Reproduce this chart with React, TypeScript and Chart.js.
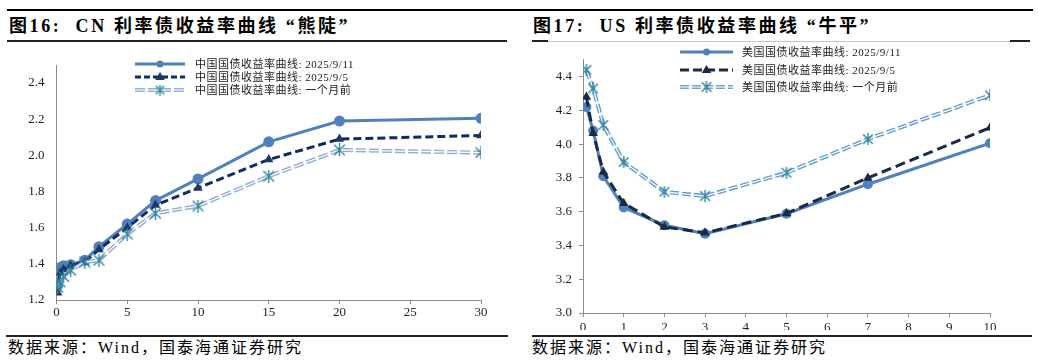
import React, { useEffect, useRef } from 'react';
import { Chart, registerables } from 'chart.js';

Chart.register(...registerables);

// ---------- data ----------
const cnTenors = [0.083, 0.25, 0.5, 1, 2, 3, 5, 7, 10, 15, 20, 30];
const cnLatest = [1.28, 1.38, 1.39, 1.395, 1.42, 1.495, 1.62, 1.75, 1.87, 2.075, 2.19, 2.205];
const cnWeekAgo = [1.24, 1.35, 1.37, 1.39, 1.41, 1.48, 1.6, 1.725, 1.82, 1.977, 2.09, 2.11];
const cnMonthAgo = [1.27, 1.3, 1.33, 1.365, 1.41, 1.42, 1.565, 1.68, 1.72, 1.885, 2.03, 2.015];
const cnLabels = ['中国国债收益率曲线: 2025/9/11', '中国国债收益率曲线: 2025/9/5', '中国国债收益率曲线: 一个月前'];

const usTenors = [0.083, 0.25, 0.5, 1, 2, 3, 5, 7, 10];
const usLatest = [4.22, 4.08, 3.81, 3.625, 3.52, 3.47, 3.588, 3.763, 4.006];
const usWeekAgo = [4.28, 4.065, 3.835, 3.65, 3.51, 3.475, 3.59, 3.8, 4.098];
const usMonthAgo = [4.44, 4.33, 4.114, 3.894, 3.718, 3.693, 3.831, 4.03, 4.29];
const usLabels = ['美国国债收益率曲线: 2025/9/11', '美国国债收益率曲线: 2025/9/5', '美国国债收益率曲线: 一个月前'];

const cnY = { min: 1.2, max: 2.5, step: 0.2 };
const cnX = { min: 0, max: 30, step: 5 };
const usY = { min: 3.0, max: 4.5, step: 0.2 };
const usX = { min: 0, max: 10, step: 1 };

const titleLeft = '图16:  CN 利率债收益率曲线 “熊陡”';
const titleRight = '图17:  US 利率债收益率曲线 “牛平”';
const sourceText = '数据来源：Wind，国泰海通证券研究';

// ---------- helpers ----------
const STAR_COLOR = '#31859C';
function makeStar(size: number, color: string, lw: number) {
  const c = document.createElement('canvas');
  c.width = size;
  c.height = size;
  const g = c.getContext('2d')!;
  g.strokeStyle = color;
  g.lineWidth = lw;
  const m = lw / 2 + 0.5;
  g.beginPath();
  g.moveTo(m, m); g.lineTo(size - m, size - m);
  g.moveTo(size - m, m); g.lineTo(m, size - m);
  g.moveTo(size / 2, 0); g.lineTo(size / 2, size);
  g.stroke();
  return c;
}

const pts = (xs: number[], ys: number[]) => xs.map((x, i) => ({ x, y: ys[i] }));

const lineLegend = {
  id: 'lineLegend',
  afterDraw(chart: any, _a: any, opts: any) {
    if (!opts || !opts.items) return;
    const ctx = chart.ctx as CanvasRenderingContext2D;
    opts.items.forEach((it: any, i: number) => {
      const y = opts.rows[i];
      ctx.save();
      ctx.lineCap = 'butt';
      ctx.setLineDash(it.dash || []);
      ctx.strokeStyle = it.color;
      ctx.lineWidth = it.width;
      ctx.beginPath();
      ctx.moveTo(opts.x0, y);
      ctx.lineTo(opts.x1, y);
      ctx.stroke();
      if (it.inner) {
        ctx.strokeStyle = '#fff';
        ctx.lineWidth = it.inner;
        ctx.beginPath();
        ctx.moveTo(opts.x0, y);
        ctx.lineTo(opts.x1, y);
        ctx.stroke();
      }
      ctx.setLineDash([]);
      const mx = (opts.x0 + opts.x1) / 2;
      if (it.marker === 'circle') {
        ctx.fillStyle = it.markerColor;
        ctx.beginPath();
        ctx.arc(mx, y, it.size, 0, Math.PI * 2);
        ctx.fill();
      } else if (it.marker === 'triangle') {
        const r = it.size;
        ctx.fillStyle = it.markerColor;
        ctx.beginPath();
        ctx.moveTo(mx, y - r);
        ctx.lineTo(mx + r * 0.95, y + r * 0.6);
        ctx.lineTo(mx - r * 0.95, y + r * 0.6);
        ctx.closePath();
        ctx.fill();
      } else if (it.marker === 'star') {
        const img = it.img as HTMLCanvasElement;
        ctx.drawImage(img, mx - img.width / 2, y - img.height / 2);
      }
      ctx.fillStyle = '#222';
      ctx.font = opts.font;
      ctx.textBaseline = 'middle';
      ctx.textAlign = 'left';
      try { (ctx as any).letterSpacing = opts.spacing || '0px'; } catch (e) {}
      ctx.fillText(it.label, opts.textX, y + 1);
      ctx.restore();
    });
  },
};

const tickFont = { family: "'Liberation Serif', 'Times New Roman', serif", size: 13 };
const AXIS = '#8c8c8c';

function buildConfig(p: any) {
  const star = makeStar(p.starSize, STAR_COLOR, 1.4);
  const legendStar = makeStar(p.legendStarSize, STAR_COLOR, 1.4);
  const yAxis = p.yAxis;
  const xAxis = p.xAxis;
  return {
    type: 'line',
    data: {
      datasets: [
        {
          label: 's3-markers',
          data: pts(p.tenors, p.s3),
          showLine: false,
          pointStyle: star,
          pointRadius: p.starSize / 2,
          order: 0,
        },
        {
          label: 's3-inner',
          data: pts(p.tenors, p.s3),
          borderColor: '#ffffff',
          borderWidth: 1.3,
          borderDash: p.s3Dash,
          pointRadius: 0,
          order: 1,
        },
        {
          label: 's3-outer',
          data: pts(p.tenors, p.s3),
          borderColor: p.s3Color,
          borderWidth: 4,
          borderDash: p.s3Dash,
          pointRadius: 0,
          order: 2,
        },
        {
          label: p.labels[1],
          data: pts(p.tenors, p.s2),
          borderColor: p.s2Color,
          borderWidth: 3,
          borderDash: p.s2Dash,
          pointStyle: 'triangle',
          pointRadius: 5.5,
          pointBackgroundColor: p.s2Marker,
          pointBorderColor: p.s2Marker,
          pointBorderWidth: 0,
          order: 3,
        },
        {
          label: p.labels[0],
          data: pts(p.tenors, p.s1),
          borderColor: '#4F81BD',
          borderWidth: 3,
          pointStyle: 'circle',
          pointRadius: p.circleR,
          pointBackgroundColor: '#4F81BD',
          pointBorderWidth: 0,
          order: 4,
        },
      ],
    },
    options: {
      responsive: false,
      animation: false,
      layout: { padding: p.padding },
      plugins: {
        legend: { display: false },
        tooltip: { enabled: false },
        lineLegend: {
          x0: p.legend.x0,
          x1: p.legend.x1,
          textX: p.legend.textX,
          rows: p.legend.rows,
          font: p.legend.font,
          spacing: p.legend.spacing,
          items: [
            { label: p.labels[0], color: '#4F81BD', width: 3, marker: 'circle', markerColor: '#4F81BD', size: 3.5 },
            { label: p.labels[1], color: p.s2Color, width: 3, dash: p.s2LegendDash, marker: 'triangle', markerColor: p.s2Marker, size: 5 },
            { label: p.labels[2], color: p.s3LegendColor, width: 4, inner: 1.2, dash: p.s3Dash, marker: 'star', img: legendStar },
          ],
        },
      },
      scales: {
        x: {
          type: 'linear',
          min: xAxis.min,
          max: xAxis.max,
          afterFit: (s: any) => { s.height = p.xAxisH; },
          grid: { drawOnChartArea: false, drawTicks: true, tickLength: p.xTickLen, color: AXIS },
          border: { display: true, color: AXIS, width: 1 },
          ticks: {
            stepSize: xAxis.step,
            padding: p.xTickPad,
            color: '#222',
            font: tickFont,
            maxRotation: 0,
            autoSkip: false,
            callback: (v: any) => String(Math.round(Number(v))),
          },
        },
        y: {
          type: 'linear',
          min: yAxis.min,
          max: yAxis.max,
          afterFit: (s: any) => { s.width = p.yAxisW; },
          afterBuildTicks: (s: any) => {
            s.ticks = s.ticks.filter((t: any) => t.value < yAxis.max - 1e-6);
          },
          grid: { drawOnChartArea: false, drawTicks: p.yTicks, tickLength: 4, color: AXIS },
          border: { display: true, color: AXIS, width: 1 },
          ticks: {
            stepSize: yAxis.step,
            padding: p.yTickPad,
            color: '#222',
            font: tickFont,
            autoSkip: false,
            callback: (v: any) => Number(v).toFixed(1),
          },
        },
      },
    },
    plugins: [lineLegend],
  };
}

function ChartCanvas(props: { cfg: any; width: number; height: number; left: number; top: number }) {
  const ref = useRef<HTMLCanvasElement | null>(null);
  useEffect(() => {
    if (!ref.current) return;
    const chart = new Chart(ref.current, buildConfig(props.cfg) as any);
    return () => chart.destroy();
  }, []);
  return (
    <canvas
      ref={ref}
      width={props.width}
      height={props.height}
      style={{ position: 'absolute', left: props.left, top: props.top, width: props.width, height: props.height }}
    />
  );
}

const cnCfg = {
  tenors: cnTenors, s1: cnLatest, s2: cnWeekAgo, s3: cnMonthAgo, labels: cnLabels,
  yAxis: cnY, xAxis: cnX,
  s2Color: '#12296B', s2Marker: '#1F3864', s2Dash: [8, 4], s2LegendDash: [6, 3],
  s3Color: '#8EA9DB', s3LegendColor: '#95B3D7', s3Dash: [10, 3],
  starSize: 13, legendStarSize: 11, circleR: 5.5,
  padding: { left: 0, right: 29, top: 20, bottom: 0 },
  yAxisW: 56.5, xAxisH: 30, xTickLen: 4, xTickPad: 1, yTicks: false, yTickPad: 12,
  legend: { x0: 135, x1: 185, textX: 195, rows: [19, 32, 45], font: "11px 'Liberation Serif', 'Noto Sans CJK SC', serif", spacing: '0.5px' },
};

const usCfg = {
  tenors: usTenors, s1: usLatest, s2: usWeekAgo, s3: usMonthAgo, labels: usLabels,
  yAxis: usY, xAxis: usX,
  s2Color: '#1B2A44', s2Marker: '#1B2A44', s2Dash: [10, 5], s2LegendDash: [9, 4],
  s3Color: '#5B9BD5', s3LegendColor: '#6AA8DC', s3Dash: [9, 3],
  starSize: 12, legendStarSize: 12, circleR: 5,
  padding: { left: 0, right: 48, top: 11, bottom: 0 },
  yAxisW: 63, xAxisH: 17, xTickLen: 4, xTickPad: 3, yTicks: true, yTickPad: 7,
  legend: { x0: 160, x1: 213, textX: 222, rows: [7, 25, 42], font: "11px 'Liberation Serif', 'Noto Sans CJK SC', serif", spacing: '0.5px' },
};

const titleStyle: React.CSSProperties = {
  position: 'absolute',
  top: 15,
  fontFamily: "'Liberation Serif', 'Noto Sans CJK SC', serif",
  fontWeight: 'bold',
  fontSize: 18,
  letterSpacing: 2.6,
  lineHeight: '22px',
  color: '#000',
  whiteSpace: 'pre',
};

const sourceStyle: React.CSSProperties = {
  position: 'absolute',
  top: 338,
  fontFamily: "'Liberation Serif', 'Noto Sans CJK SC', serif",
  fontSize: 16,
  letterSpacing: 2,
  lineHeight: '20px',
  color: '#000',
  whiteSpace: 'pre',
};

const hr = (left: number, top: number, width: number, h: number, color: string): React.CSSProperties => ({
  position: 'absolute', left, top, width, height: h, background: color,
});

export default function App() {
  return (
    <div style={{ position: 'fixed', left: 0, top: 0, width: 1038, height: 360, background: '#fff', overflow: 'hidden' }}>
      <div style={hr(7, 9, 1026, 2, '#000')} />
      <div style={{ ...titleStyle, left: 9 }}>{titleLeft}</div>
      <div style={{ ...titleStyle, left: 533 }}>{titleRight}</div>
      <div style={hr(7, 40, 500, 2, '#222')} />
      <div style={hr(532, 40, 16, 2, '#222')} />
      <div style={hr(548, 41, 462, 1, '#c8c8c8')} />
      <div style={hr(1010, 40, 20, 2, '#222')} />

      <ChartCanvas cfg={cnCfg} width={510} height={285} left={0} top={45} />
      <ChartCanvas cfg={usCfg} width={518} height={285} left={520} top={45} />

      <div style={hr(6, 335, 502, 2, '#222')} />
      <div style={hr(532, 335, 500, 2, '#222')} />
      <div style={{ ...sourceStyle, left: 8 }}>{sourceText}</div>
      <div style={{ ...sourceStyle, left: 532 }}>{sourceText}</div>
    </div>
  );
}
